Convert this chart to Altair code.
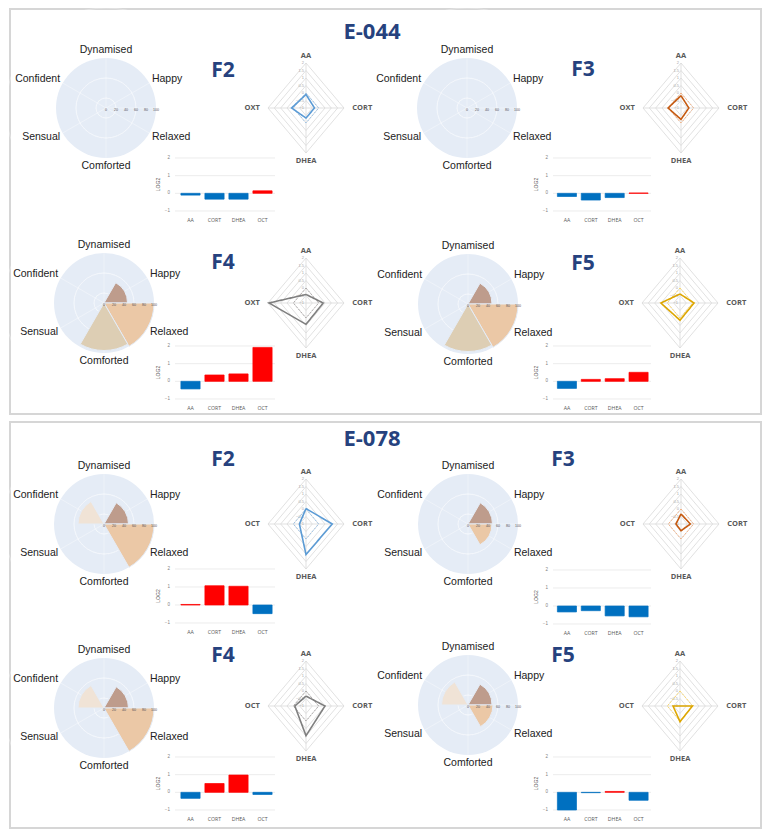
import math
import altair as alt
import pandas as pd

# ---------------- data ----------------
PANELS = ["E-044", "E-078"]
PHASES = ["F2", "F3", "F4", "F5"]
EMOTIONS = ["Dynamised", "Happy", "Relaxed", "Comforted", "Sensual", "Confident"]
HORMONES = ["AA", "CORT", "DHEA", "OCT"]
RADAR_AXES_E044 = ["AA", "CORT", "DHEA", "OXT"]
RADAR_AXES_E078 = ["AA", "CORT", "DHEA", "OCT"]
POLAR_TICKS = [0, 20, 40, 60, 80, 100]
BAR_TICKS = [-1, 0, 1, 2]
RADAR_TICKS = [-1, -0.5, 0, 0.5, 1, 1.5, 2]
RADAR_BASELINE = [0, 0, 0, 0]

E044_F2_EMOTIONS = [0, 0, 0, 0, 0, 0]
E044_F3_EMOTIONS = [0, 0, 0, 0, 0, 0]
E044_F4_EMOTIONS = [0, 47, 100, 95, 0, 0]
E044_F5_EMOTIONS = [0, 48, 100, 95, 0, 0]
E078_F2_EMOTIONS = [0, 49, 100, 0, 0, 52]
E078_F3_EMOTIONS = [0, 49, 48, 0, 0, 0]
E078_F4_EMOTIONS = [0, 49, 100, 0, 0, 52]
E078_F5_EMOTIONS = [0, 48, 50, 0, 0, 53]

E044_F2_LOG2 = [-0.10, -0.33, -0.33, 0.14]
E044_F3_LOG2 = [-0.18, -0.38, -0.24, 0.02]
E044_F4_LOG2 = [-0.43, 0.36, 0.42, 1.92]
E044_F5_LOG2 = [-0.40, 0.11, 0.15, 0.51]
E078_F2_LOG2 = [0.03, 1.07, 1.04, -0.48]
E078_F3_LOG2 = [-0.33, -0.26, -0.55, -0.60]
E078_F4_LOG2 = [-0.34, 0.50, 0.98, -0.12]
E078_F5_LOG2 = [-1.00, -0.02, 0.05, -0.45]

EMOTION_DATA = {
    ("E-044", "F2"): E044_F2_EMOTIONS, ("E-044", "F3"): E044_F3_EMOTIONS,
    ("E-044", "F4"): E044_F4_EMOTIONS, ("E-044", "F5"): E044_F5_EMOTIONS,
    ("E-078", "F2"): E078_F2_EMOTIONS, ("E-078", "F3"): E078_F3_EMOTIONS,
    ("E-078", "F4"): E078_F4_EMOTIONS, ("E-078", "F5"): E078_F5_EMOTIONS,
}
LOG2_DATA = {
    ("E-044", "F2"): E044_F2_LOG2, ("E-044", "F3"): E044_F3_LOG2,
    ("E-044", "F4"): E044_F4_LOG2, ("E-044", "F5"): E044_F5_LOG2,
    ("E-078", "F2"): E078_F2_LOG2, ("E-078", "F3"): E078_F3_LOG2,
    ("E-078", "F4"): E078_F4_LOG2, ("E-078", "F5"): E078_F5_LOG2,
}
RADAR_AXES = {"E-044": RADAR_AXES_E044, "E-078": RADAR_AXES_E078}

# ---------------- styles ----------------
NAVY = "#26427E"
POLAR_BG = "#E5ECF6"
GRID = "#D9D9D9"
RED = "#FF0000"
BLUE = "#0070C0"
FONT = "Liberation Sans"
BOLD_FONT = "Open Sans"
EMOTION_COLORS = ["#CDB9A8", "#BE9C8C", "#EBC8A6", "#DDCEB4", "#E3D3C4", "#F0E3D6"]
RADAR_COLORS = {
    "F2": ("#5B9BD5", "#9DC3E6"),
    "F3": ("#C55A11", "#F4B183"),
    "F4": ("#7F7F7F", "#AFABAB"),
    "F5": ("#DDA600", "#FFD966"),
}

# ---------------- layout (page pixels) ----------------
PANEL_ORIGIN = {"E-044": (9, 8), "E-078": (9, 420)}
PANEL_SIZE = {"E-044": (751, 405), "E-078": (751, 406)}
TITLE_POS = {"E-044": (371, 31), "E-078": (371, 437)}
BAR_COLS = {
    "L": {"band": (177.5, 273.5), "grid": (174, 274)},
    "R": {"band": (554, 649.5), "grid": (552, 650)},
}
CELLS = {
    ("E-044", "F2"): dict(polar=(105, 107), flab=(222, 70), col="L", bar_y=(157, 210), radar=(305, 107)),
    ("E-044", "F3"): dict(polar=(466, 107), flab=(582, 69), col="R", bar_y=(157, 210), radar=(680, 107)),
    ("E-044", "F4"): dict(polar=(103, 302), flab=(222, 262), col="L", bar_y=(345, 398), radar=(305, 302)),
    ("E-044", "F5"): dict(polar=(467, 303), flab=(582, 263), col="R", bar_y=(345, 398), radar=(679, 302)),
    ("E-078", "F2"): dict(polar=(103, 522), flab=(222, 458), col="L", bar_y=(567, 621), radar=(305, 522)),
    ("E-078", "F3"): dict(polar=(467, 522), flab=(562, 458), col="R", bar_y=(568, 622), radar=(680, 522)),
    ("E-078", "F4"): dict(polar=(103, 706), flab=(222, 654), col="L", bar_y=(755, 808), radar=(305, 704)),
    ("E-078", "F5"): dict(polar=(467, 703), flab=(562, 654), col="R", bar_y=(755, 808), radar=(679, 704)),
}
ONE = pd.DataFrame({"one": [1]})


def lin(domain, rng):
    return alt.Scale(type="linear", domain=domain, range=rng, zero=False, nice=False)


def X(field, scale):
    return alt.X(field, scale=scale, axis=None)


def Y(field, scale):
    return alt.Y(field, scale=scale, axis=None)


def polar_layers(cx, cy, vals):
    R = 50
    xs = lin([-100, 100], [cx - R, cx + R])
    ys = lin([-100, 100], [cy + R, cy - R])
    rs = alt.Scale(type="linear", domain=[0, 100], range=[0, R], zero=True, nice=False)
    ts = lin([0, 360], [0, 2 * math.pi])
    n = len(EMOTIONS)
    step = 360 / n
    emo = pd.DataFrame({"emotion": EMOTIONS, "i": list(range(n)), "v": vals})
    out = []
    out.append(alt.Chart(pd.DataFrame({"r": [POLAR_TICKS[-1]]})).mark_arc(
        color=POLAR_BG, theta=0, theta2=2 * math.pi).encode(
        x=alt.value(cx), y=alt.value(cy), radius=alt.Radius("r:Q", scale=rs)))
    out.append(alt.Chart(pd.DataFrame({"r": POLAR_TICKS[1:-1]})).mark_arc(
        filled=False, color="white", strokeWidth=0.6, strokeOpacity=0.55,
        theta=0, theta2=2 * math.pi).encode(
        x=alt.value(cx), y=alt.value(cy), radius=alt.Radius("r:Q", scale=rs)))
    spokes = pd.DataFrame({"a": [i * step for i in range(n)] + [90]})
    out.append(alt.Chart(spokes).transform_calculate(
        x0="0", y0="0",
        x1="100*sin(datum.a*PI/180)", y1="100*cos(datum.a*PI/180)").mark_rule(
        color="white", strokeWidth=0.6, strokeOpacity=0.6).encode(
        x=X("x0:Q", xs), y=Y("y0:Q", ys), x2="x1:Q", y2="y1:Q"))
    out.append(alt.Chart(emo).transform_filter("datum.v > 0").transform_calculate(
        t0=f"datum.i*{step}-{step / 2}", t1=f"datum.i*{step}+{step / 2}").mark_arc(
        stroke=POLAR_BG, strokeWidth=1).encode(
        x=alt.value(cx), y=alt.value(cy),
        theta=alt.Theta("t0:Q", scale=ts, stack=False), theta2="t1:Q",
        radius=alt.Radius("v:Q", scale=rs),
        color=alt.Color("emotion:N", scale=alt.Scale(domain=EMOTIONS, range=EMOTION_COLORS), legend=None)))
    out.append(alt.Chart(pd.DataFrame({"t": POLAR_TICKS})).transform_calculate(y0="0").mark_text(
        font=FONT, fontSize=3.6, color="#555555", dy=2).encode(
        x=X("t:Q", xs), y=Y("y0:Q", ys), text="t:Q"))
    base = alt.Chart(emo[["emotion", "i"]]).transform_calculate(a=f"datum.i*{step}*PI/180")
    groups = [("datum.i == 0 || datum.i == 3", "center", 116, 116),
              ("datum.i == 1 || datum.i == 2", "left", 106, 117),
              ("datum.i == 4 || datum.i == 5", "right", 106, 117)]
    for test, align, rx, ry in groups:
        out.append(base.transform_filter(test).transform_calculate(
            px=f"{rx}*sin(datum.a)", py=f"{ry}*cos(datum.a)").mark_text(
            font=FONT, fontSize=10.5, color="#222222", align=align).encode(
            x=X("px:Q", xs), y=Y("py:Q", ys), text="emotion:N"))
    return out


def bar_layers(cols, ytop, ybot, vals):
    b0, b1 = cols["band"]
    g0, g1 = cols["grid"]
    xs = alt.Scale(domain=HORMONES, range=[b0, b1], paddingInner=0.2, paddingOuter=0.1)
    ys = lin([BAR_TICKS[0], BAR_TICKS[-1]], [ybot, ytop])
    df = pd.DataFrame({"h": HORMONES, "v": vals})
    ticks = pd.DataFrame({"t": BAR_TICKS})
    out = []
    out.append(alt.Chart(ticks).mark_rule(color="#E4E4E4", strokeWidth=0.7).encode(
        y=Y("t:Q", ys), x=alt.value(g0), x2=alt.value(g1)))
    out.append(alt.Chart(ticks).mark_text(font=FONT, fontSize=4.5, color="#7F7F7F", align="right").encode(
        y=Y("t:Q", ys), x=alt.value(g0 - 5), text="t:Q"))
    out.append(alt.Chart(pd.DataFrame({"m": [0.5]})).mark_text(
        text="LOG2", font=FONT, fontSize=5, color="#595959", angle=270).encode(
        y=Y("m:Q", ys), x=alt.value(g0 - 17)))
    cond = alt.condition("datum.v >= 0", alt.value(RED), alt.value(BLUE))
    out.append(alt.Chart(df).transform_calculate(z="0").mark_bar(strokeWidth=0.7).encode(
        x=X("h:N", xs), y=Y("v:Q", ys), y2="z:Q", color=cond, stroke=cond))
    out.append(alt.Chart(df).mark_text(font=BOLD_FONT, fontSize=5.2, color="#595959").encode(
        x=X("h:N", xs), y=alt.value(ybot + 9), text="h:N"))
    return out


def radar_layers(cx, cy, axes, vals, colors):
    rx, ry = 38, 45
    top = RADAR_TICKS[-1] - RADAR_TICKS[0]
    xs = lin([-top, top], [cx - rx, cx + rx])
    ys = lin([-top, top], [cy + ry, cy - ry])
    lo = -RADAR_TICKS[0]
    out = []
    out.append(alt.Chart(pd.DataFrame({"lv": RADAR_TICKS[1:]})).transform_calculate(
        k="[0,1,2,3,4]").transform_flatten(["k"]).transform_calculate(
        px=f"(datum.lv+{lo})*sin(datum.k*PI/2)", py=f"(datum.lv+{lo})*cos(datum.k*PI/2)").mark_line(
        color=GRID, strokeWidth=0.8).encode(
        x=X("px:Q", xs), y=Y("py:Q", ys), detail="lv:N", order="k:Q"))
    out.append(alt.Chart(pd.DataFrame({"k": [0, 1, 2, 3]})).transform_calculate(
        x0="0", y0="0", x1=f"{top}*sin(datum.k*PI/2)", y1=f"{top}*cos(datum.k*PI/2)").mark_rule(
        color=GRID, strokeWidth=0.8).encode(
        x=X("x0:Q", xs), y=Y("y0:Q", ys), x2="x1:Q", y2="y1:Q"))
    out.append(alt.Chart(pd.DataFrame({"lv": RADAR_TICKS})).transform_calculate(
        x0="0", py=f"datum.lv+{lo}").mark_text(
        font=FONT, fontSize=4, color="#A6A6A6", align="right", dx=-2).encode(
        x=X("x0:Q", xs), y=Y("py:Q", ys), text="lv:Q"))
    for series, color, dash, width in [(RADAR_BASELINE, colors[1], [2, 1.5], 1.0),
                                       (vals, colors[0], [1, 0], 1.6)]:
        poly = pd.DataFrame({"k": list(range(5)),
                             "axis": [axes[k % 4] for k in range(5)],
                             "v": [series[k % 4] for k in range(5)]})
        out.append(alt.Chart(poly).transform_calculate(
            px=f"(datum.v+{lo})*sin(datum.k*PI/2)", py=f"(datum.v+{lo})*cos(datum.k*PI/2)").mark_line(
            color=color, strokeWidth=width, strokeDash=dash).encode(
            x=X("px:Q", xs), y=Y("py:Q", ys), order="k:Q"))
    lab = pd.DataFrame({"axis": axes, "k": [0, 1, 2, 3]})
    for test, align, rr in [("datum.k == 0 || datum.k == 2", "center", 3.5),
                            ("datum.k == 1", "left", 3.65),
                            ("datum.k == 3", "right", 3.65)]:
        out.append(alt.Chart(lab).transform_filter(test).transform_calculate(
            px=f"{rr}*sin(datum.k*PI/2)", py=f"{rr}*cos(datum.k*PI/2)").mark_text(
            font=BOLD_FONT, fontWeight="bold", fontSize=7.5, color="#595959", align=align).encode(
            x=X("px:Q", xs), y=Y("py:Q", ys), text="axis:N"))
    return out


def cell_layers(panel, phase):
    ox, oy = PANEL_ORIGIN[panel]
    c = CELLS[(panel, phase)]
    pcx, pcy = c["polar"][0] - ox, c["polar"][1] - oy
    fx, fy = c["flab"][0] - ox, c["flab"][1] - oy
    rcx, rcy = c["radar"][0] - ox, c["radar"][1] - oy
    ytop, ybot = c["bar_y"][0] - oy, c["bar_y"][1] - oy
    cols = {k: tuple(v - ox for v in BAR_COLS[c["col"]][k]) for k in ("band", "grid")}
    out = []
    out += polar_layers(pcx, pcy, EMOTION_DATA[(panel, phase)])
    out += bar_layers(cols, ytop, ybot, LOG2_DATA[(panel, phase)])
    out += radar_layers(rcx, rcy, RADAR_AXES[panel], LOG2_DATA[(panel, phase)], RADAR_COLORS[phase])
    out.append(alt.Chart(ONE).mark_text(
        text=phase, font=BOLD_FONT, fontWeight="bold", fontSize=21, color=NAVY).encode(
        x=alt.value(fx), y=alt.value(fy)))
    return out


def make_panel(panel):
    ox, oy = PANEL_ORIGIN[panel]
    layers = []
    for ph in PHASES:
        layers += cell_layers(panel, ph)
    tx, ty = TITLE_POS[panel]
    layers.append(alt.Chart(ONE).mark_text(
        text=panel, font=BOLD_FONT, fontWeight="bold", fontSize=22, color=NAVY).encode(
        x=alt.value(tx - ox), y=alt.value(ty - oy)))
    w, h = PANEL_SIZE[panel]
    return alt.layer(*layers).resolve_scale(
        x="independent", y="independent", theta="independent",
        radius="independent", color="independent").properties(
        width=w, height=h,
        view=alt.ViewBackground(stroke="#D6D6D6", strokeWidth=2, fill="white"))


chart = alt.vconcat(make_panel("E-044"), make_panel("E-078"), spacing=6).properties(
    padding={"left": 1, "top": 5, "right": 0, "bottom": 0}, background="white")

chart.save("out.html", embed_options={"renderer": "svg", "actions": False})
